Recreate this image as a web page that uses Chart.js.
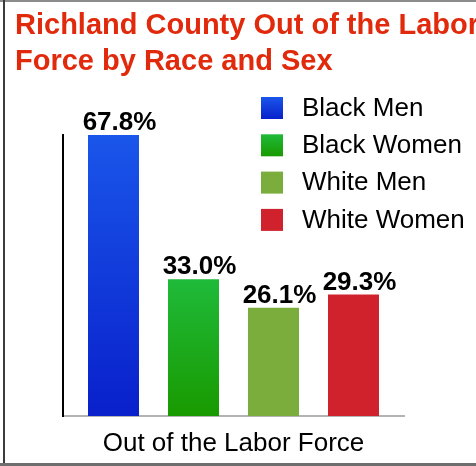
<!DOCTYPE html>
<html>
<head>
<meta charset="utf-8">
<title>Richland County Out of the Labor Force</title>
<script src="https://cdn.jsdelivr.net/npm/chart.js@4/dist/chart.umd.min.js"></script>
<style>
  body { margin: 0; background: #fff; }
  #wrap { position: relative; width: 476px; height: 466px; overflow: hidden; background: #fff; }
  #title {
    position: absolute; left: 15px; top: 7px; margin: 0;
    font: bold 29px/35.7px "Liberation Sans", Arial, Helvetica, sans-serif;
    color: #e1290c; white-space: nowrap;
  }
  .rule-top { position: absolute; left: 0; top: 0; width: 476px; height: 2px; background: #8c8c8c; }
  .rule-left { position: absolute; left: 3px; top: 0; width: 2px; height: 466px; background: #3c3c3c; }
  .rule-bottom { position: absolute; left: 0; top: 463px; width: 476px; height: 3px; background: #6e6e6e; }
  #chart { position: absolute; left: 0; top: 0; }
</style>
</head>
<body>
<div id="wrap">
  <canvas id="chart" width="476" height="466"></canvas>
  <h1 id="title">Richland County Out of the Labor<br>Force by Race and Sex</h1>
  <div class="rule-top"></div>
  <div class="rule-left"></div>
  <div class="rule-bottom"></div>
</div>
<script>
const categories = ['Out of the Labor Force'];
const groups = ['Black Men', 'Black Women', 'White Men', 'White Women'];
const percents = [67.8, 33.0, 26.1, 29.3];
const colorTop = ['#1a56ea', '#1fba3a', '#7aad3c', '#d0222c'];
const colorBottom = ['#0920cb', '#199a00', '#7aad3c', '#d0222c'];

const FONT = '"Liberation Sans", Arial, Helvetica, sans-serif';

// vertical gradient running down the bar itself
function barFill(i) {
  return (ctx) => {
    const y = ctx.chart.scales.y;
    if (!y || ctx.raw == null) return colorTop[i];
    const top = y.getPixelForValue(ctx.raw);
    const base = y.getPixelForValue(0);
    if (!isFinite(top) || !isFinite(base) || top === base) return colorTop[i];
    const g = ctx.chart.ctx.createLinearGradient(0, top, 0, base);
    g.addColorStop(0, colorTop[i]);
    g.addColorStop(1, colorBottom[i]);
    return g;
  };
}

// percentage labels above each bar
const valueLabels = {
  id: 'valueLabels',
  afterDatasetsDraw(chart) {
    const ctx = chart.ctx;
    ctx.save();
    ctx.font = 'bold 26px ' + FONT;
    ctx.fillStyle = '#000';
    ctx.textAlign = 'center';
    ctx.textBaseline = 'alphabetic';
    chart.data.datasets.forEach((ds, i) => {
      chart.getDatasetMeta(i).data.forEach((bar, j) => {
        ctx.fillText(ds.data[j].toFixed(1) + '%', bar.x + 6, bar.y - 5);
      });
    });
    ctx.restore();
  }
};

// legend sitting over the upper right of the plot
const sideLegend = {
  id: 'sideLegend',
  afterDraw(chart) {
    const ctx = chart.ctx;
    const boxX = 261, boxY = 97, size = 22, step = 37.3, textX = 302;
    ctx.save();
    ctx.font = '26px ' + FONT;
    ctx.textAlign = 'left';
    ctx.textBaseline = 'middle';
    groups.forEach((name, i) => {
      const y = boxY + i * step;
      const g = ctx.createLinearGradient(0, y, 0, y + size);
      g.addColorStop(0, colorTop[i]);
      g.addColorStop(1, colorBottom[i]);
      ctx.fillStyle = g;
      ctx.fillRect(boxX, y, size, size);
      ctx.fillStyle = '#000';
      ctx.fillText(name, textX, y + size / 2 + 0.5);
    });
    ctx.restore();
  }
};

new Chart(document.getElementById('chart'), {
  type: 'bar',
  data: {
    labels: categories,
    datasets: groups.map((name, i) => ({
      label: name,
      data: [percents[i]],
      backgroundColor: barFill(i),
      borderWidth: 0,
      categoryPercentage: 320 / 341,
      barPercentage: 0.6375
    }))
  },
  options: {
    responsive: false,
    animation: false,
    layout: { padding: { left: 63, right: 72, top: 135, bottom: 0 } },
    plugins: {
      legend: { display: false },
      title: { display: false },
      tooltip: { enabled: false }
    },
    scales: {
      x: {
        grid: { display: false },
        ticks: { display: false },
        border: { display: true, color: '#b3b3b3', width: 2 },
        title: {
          display: true,
          text: categories[0],
          color: '#000',
          font: { family: FONT, size: 26 },
          padding: { top: 0, bottom: 7 }
        },
        afterFit: (s) => { s.height = 50; }
      },
      y: {
        min: 0,
        max: Math.max(...percents),
        grid: { display: false },
        ticks: { display: false },
        border: { display: true, color: '#000', width: 2 },
        afterFit: (s) => { s.width = 0; }
      }
    }
  },
  plugins: [valueLabels, sideLegend]
});
</script>
</body>
</html>
